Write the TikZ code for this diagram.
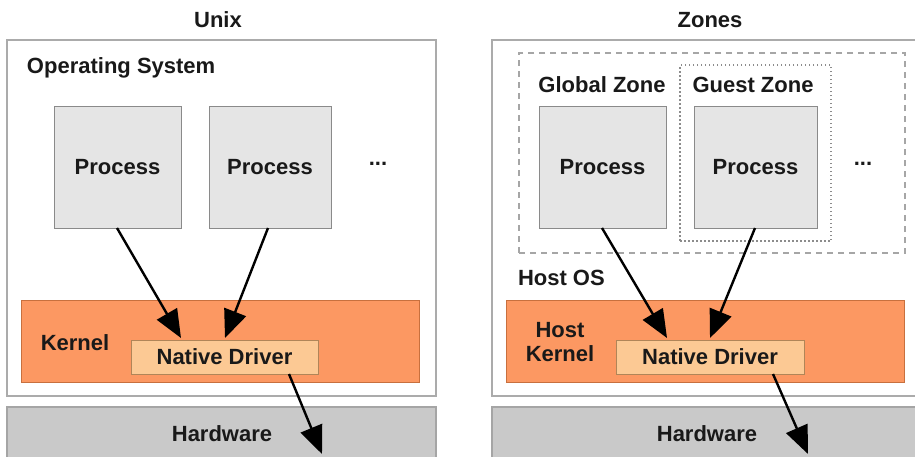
\documentclass[tikz,border=0pt]{standalone}
\usepackage{fontspec}
\setmainfont{Liberation Sans}
\usetikzlibrary{arrows.meta,calc}
\definecolor{outerline}{HTML}{ABABAB}
\definecolor{procfill}{HTML}{E5E5E5}
\definecolor{procline}{HTML}{8A8A8A}
\definecolor{kernfill}{HTML}{FC9862}
\definecolor{kernline}{HTML}{C8703E}
\definecolor{drvfill}{HTML}{FCC994}
\definecolor{drvline}{HTML}{B08558}
\definecolor{hwfill}{HTML}{C9C9C9}
\definecolor{hwline}{HTML}{A5A5A5}
\begin{document}
\begin{tikzpicture}[x=1pt,y=-1pt,
  every node/.style={font=\fontsize{22}{24.5}\selectfont\bfseries, inner sep=0pt, outer sep=0pt},
  rbox/.style={rectangle, anchor=north west},
  outerbox/.style={rbox, draw=outerline, line width=1.2pt, fill=white},
  procbox/.style={rbox, draw=procline, line width=1pt, fill=procfill},
  kernbox/.style={rbox, draw=kernline, line width=1pt, fill=kernfill},
  drvbox/.style={rbox, draw=drvline, line width=1pt, fill=drvfill},
  hwbox/.style={rbox, draw=hwline, line width=1.2pt, fill=hwfill},
  zonebox/.style={rbox, draw=black!35, line width=1.2pt, dash pattern=on 6pt off 5pt},
  guestbox/.style={rbox, draw=black!45, line width=1.2pt, dash pattern=on 1.5pt off 2.5pt},
  flow/.style={draw=black, line width=2.4pt, -{Triangle[length=28pt,width=23pt]}},
  txt/.style={text=black!90}
]
\useasboundingbox (0,0) rectangle (915,456);

% ---------- Unix ----------
\node[txt] (tUnix) at (218,20) {Unix};
\node[outerbox, minimum width=429pt, minimum height=356pt] (unix) at (7,40) {};
\node[txt, anchor=west] (tOS) at (27,68) {Operating System};
\node[procbox, minimum width=127pt, minimum height=122pt] (p1) at (54,106) {};
\node[txt] at (p1.center) {Process};
\node[procbox, minimum width=122pt, minimum height=122pt] (p2) at (209,106) {};
\node[txt] at (p2.center) {Process};
\node[txt, anchor=base] (dots1) at (378,165) {...};
\node[kernbox, minimum width=398pt, minimum height=82pt] (k1) at (21,300) {};
\node[txt] (tK1) at (75,343) {Kernel};
\node[drvbox, minimum width=187pt, minimum height=34pt] (d1) at (131,340) {};
\node[txt] at (d1.center) {Native Driver};
\node[hwbox, minimum width=429pt, minimum height=60pt] (hw1) at (7,407) {};
\node[txt] (tHw1) at (222,434) {Hardware};

\coordinate (a1s) at ($(p1.south west)+(63,0)$);
\coordinate (a1e) at ($(d1.north west)+(50,-2)$);
\coordinate (a2s) at ($(p2.south west)+(59,0)$);
\coordinate (a2e) at ($(d1.north west)+(94,-2)$);
\coordinate (a3s) at ($(d1.south west)+(158,0)$);
\coordinate (a3e) at (322,454);
\draw[flow] (a1s) -- (a1e);
\draw[flow] (a2s) -- (a2e);
\draw[flow] (a3s) -- (a3e);

% ---------- Zones ----------
\node[txt] (tZones) at (710,20) {Zones};
\node[outerbox, minimum width=430pt, minimum height=356pt] (zones) at (492,40) {};
\node[zonebox, minimum width=386pt, minimum height=200pt] (gz) at (519,53) {};
\node[guestbox, minimum width=151pt, minimum height=176pt] (guest) at (680,65) {};
\node[txt] (tGZ) at (602,85) {Global Zone};
\node[txt] (tGuest) at (753,85) {Guest Zone};
\node[procbox, minimum width=127pt, minimum height=122pt] (p3) at (539,106) {};
\node[txt] at (p3.center) {Process};
\node[procbox, minimum width=123pt, minimum height=122pt] (p4) at (694,106) {};
\node[txt] at (p4.center) {Process};
\node[txt, anchor=base] (dots2) at (863,165) {...};
\node[txt, anchor=west] (tHost) at (518,278) {Host OS};
\node[kernbox, minimum width=398pt, minimum height=82pt] (k2) at (506,300) {};
\node[txt, align=center] (tK2) at (560,342) {Host\\Kernel};
\node[drvbox, minimum width=188pt, minimum height=34pt] (d2) at (616,340) {};
\node[txt] at (d2.center) {Native Driver};
\node[hwbox, minimum width=430pt, minimum height=60pt] (hw2) at (492,407) {};
\node[txt] (tHw2) at (707,434) {Hardware};

\coordinate (b1s) at ($(p3.south west)+(63,0)$);
\coordinate (b1e) at ($(d2.north west)+(51,-2)$);
\coordinate (b2s) at ($(p4.south west)+(61,0)$);
\coordinate (b2e) at ($(d2.north west)+(94,-2)$);
\coordinate (b3s) at ($(d2.south west)+(157,0)$);
\coordinate (b3e) at (808,454);
\draw[flow] (b1s) -- (b1e);
\draw[flow] (b2s) -- (b2e);
\draw[flow] (b3s) -- (b3e);
\end{tikzpicture}
\end{document}
